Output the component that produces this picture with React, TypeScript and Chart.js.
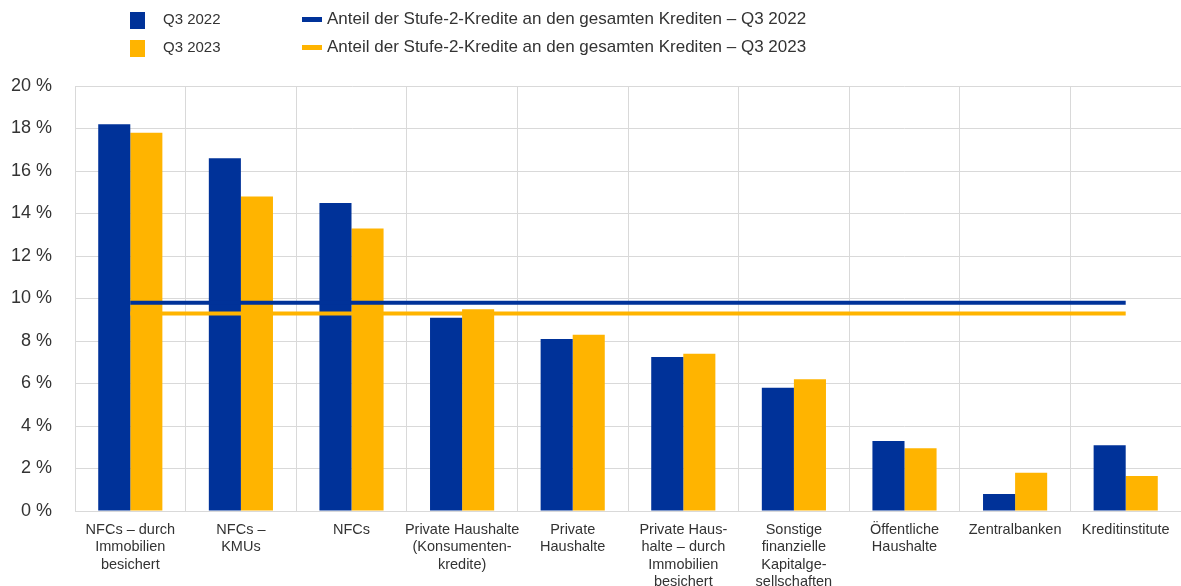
import React, { useEffect, useRef } from "react";
import { Chart, registerables } from "chart.js";

Chart.register(...registerables);

// Sectors (multi-line tick labels)
const categories: string[][] = [
  ["NFCs – durch", "Immobilien", "besichert"],
  ["NFCs –", "KMUs"],
  ["NFCs"],
  ["Private Haushalte", "(Konsumenten-", "kredite)"],
  ["Private", "Haushalte"],
  ["Private Haus-", "halte – durch", "Immobilien", "besichert"],
  ["Sonstige", "finanzielle", "Kapitalge-", "sellschaften"],
  ["Öffentliche", "Haushalte"],
  ["Zentralbanken"],
  ["Kreditinstitute"],
];

// Share of stage-2 loans per sector, in %
const q3_2022: number[] = [18.2, 16.6, 14.5, 9.1, 8.1, 7.25, 5.8, 3.3, 0.8, 3.1];
const q3_2023: number[] = [17.8, 14.8, 13.3, 9.5, 8.3, 7.4, 6.2, 2.95, 1.8, 1.65];

// Share of stage-2 loans in total loans (reference lines), in %
const total_2022: number[] = [9.8, 9.8, 9.8, 9.8, 9.8, 9.8, 9.8, 9.8, 9.8, 9.8];
const total_2023: number[] = [9.3, 9.3, 9.3, 9.3, 9.3, 9.3, 9.3, 9.3, 9.3, 9.3];

// Value axis
const yMin = 0;
const yMax = 20;
const yStep = 2;

const seriesLabels = ["Q3 2022", "Q3 2023"];
const lineLabels = [
  "Anteil der Stufe-2-Kredite an den gesamten Krediten – Q3 2022",
  "Anteil der Stufe-2-Kredite an den gesamten Krediten – Q3 2023",
];

const BLUE = "#003299";
const YELLOW = "#FFB400";
const TEXT = "#333333";
const GRID = "#d9d9d9";
const FONT = "'Liberation Sans', Arial, sans-serif";

const W = 1181;
const H = 586;

export default function App() {
  const canvasRef = useRef<HTMLCanvasElement | null>(null);

  useEffect(() => {
    const canvas = canvasRef.current;
    if (!canvas) return;
    const chart = new Chart(canvas, {
      type: "bar",
      data: {
        labels: categories,
        datasets: [
          {
            type: "line",
            label: lineLabels[0],
            data: total_2022,
            borderColor: BLUE,
            backgroundColor: BLUE,
            borderWidth: 4,
            pointRadius: 0,
            order: 1,
          },
          {
            type: "line",
            label: lineLabels[1],
            data: total_2023,
            borderColor: YELLOW,
            backgroundColor: YELLOW,
            borderWidth: 4,
            pointRadius: 0,
            order: 1,
          },
          {
            type: "bar",
            label: seriesLabels[0],
            data: q3_2022,
            backgroundColor: BLUE,
            categoryPercentage: 0.58,
            barPercentage: 1.0,
            order: 2,
          },
          {
            type: "bar",
            label: seriesLabels[1],
            data: q3_2023,
            backgroundColor: YELLOW,
            categoryPercentage: 0.58,
            barPercentage: 1.0,
            order: 2,
          },
        ],
      },
      options: {
        responsive: false,
        animation: false,
        devicePixelRatio: 1,
        layout: { padding: { top: 86, left: 0, right: 0, bottom: 0 } },
        plugins: {
          legend: { display: false },
          tooltip: { enabled: false },
        },
        scales: {
          x: {
            offset: true,
            grid: {
              offset: true,
              color: GRID,
              lineWidth: 1,
              drawTicks: false,
            },
            border: { color: GRID, width: 1 },
            ticks: {
              color: TEXT,
              font: { family: FONT, size: 14.5 },
              padding: 10,
              maxRotation: 0,
              minRotation: 0,
              autoSkip: false,
            },
            afterFit: (scale: any) => {
              scale.height = 75;
            },
          },
          y: {
            min: yMin,
            max: yMax,
            ticks: {
              stepSize: yStep,
              color: TEXT,
              font: { family: FONT, size: 18 },
              padding: 23,
              callback: (v: any) => `${v} %`,
            },
            grid: { color: GRID, lineWidth: 1, drawTicks: false },
            border: { color: GRID, width: 1 },
            afterFit: (scale: any) => {
              scale.width = 75;
            },
          },
        },
      },
    });
    return () => chart.destroy();
  }, []);

  const seriesText: React.CSSProperties = {
    position: "absolute",
    fontFamily: FONT,
    fontSize: 15,
    lineHeight: "16px",
    color: TEXT,
    whiteSpace: "nowrap",
  };
  const lineText: React.CSSProperties = {
    ...seriesText,
    fontSize: 17,
    lineHeight: "18px",
  };

  return (
    <div
      style={{
        position: "absolute",
        left: 0,
        top: 0,
        width: W,
        height: H,
        background: "#ffffff",
        overflow: "hidden",
      }}
    >
      <canvas
        ref={canvasRef}
        width={W}
        height={H}
        style={{ position: "absolute", left: 0, top: 0, width: W, height: H }}
      />
      {/* Legend: bar series */}
      <div style={{ position: "absolute", left: 130, top: 12, width: 15, height: 17, background: BLUE }} />
      <div style={{ ...seriesText, left: 163, top: 11 }}>{seriesLabels[0]}</div>
      <div style={{ position: "absolute", left: 130, top: 40, width: 15, height: 17, background: YELLOW }} />
      <div style={{ ...seriesText, left: 163, top: 39 }}>{seriesLabels[1]}</div>
      {/* Legend: reference lines */}
      <div style={{ position: "absolute", left: 302, top: 17, width: 20, height: 5, background: BLUE }} />
      <div style={{ ...lineText, left: 327, top: 10 }}>{lineLabels[0]}</div>
      <div style={{ position: "absolute", left: 302, top: 45, width: 20, height: 5, background: YELLOW }} />
      <div style={{ ...lineText, left: 327, top: 38 }}>{lineLabels[1]}</div>
    </div>
  );
}
